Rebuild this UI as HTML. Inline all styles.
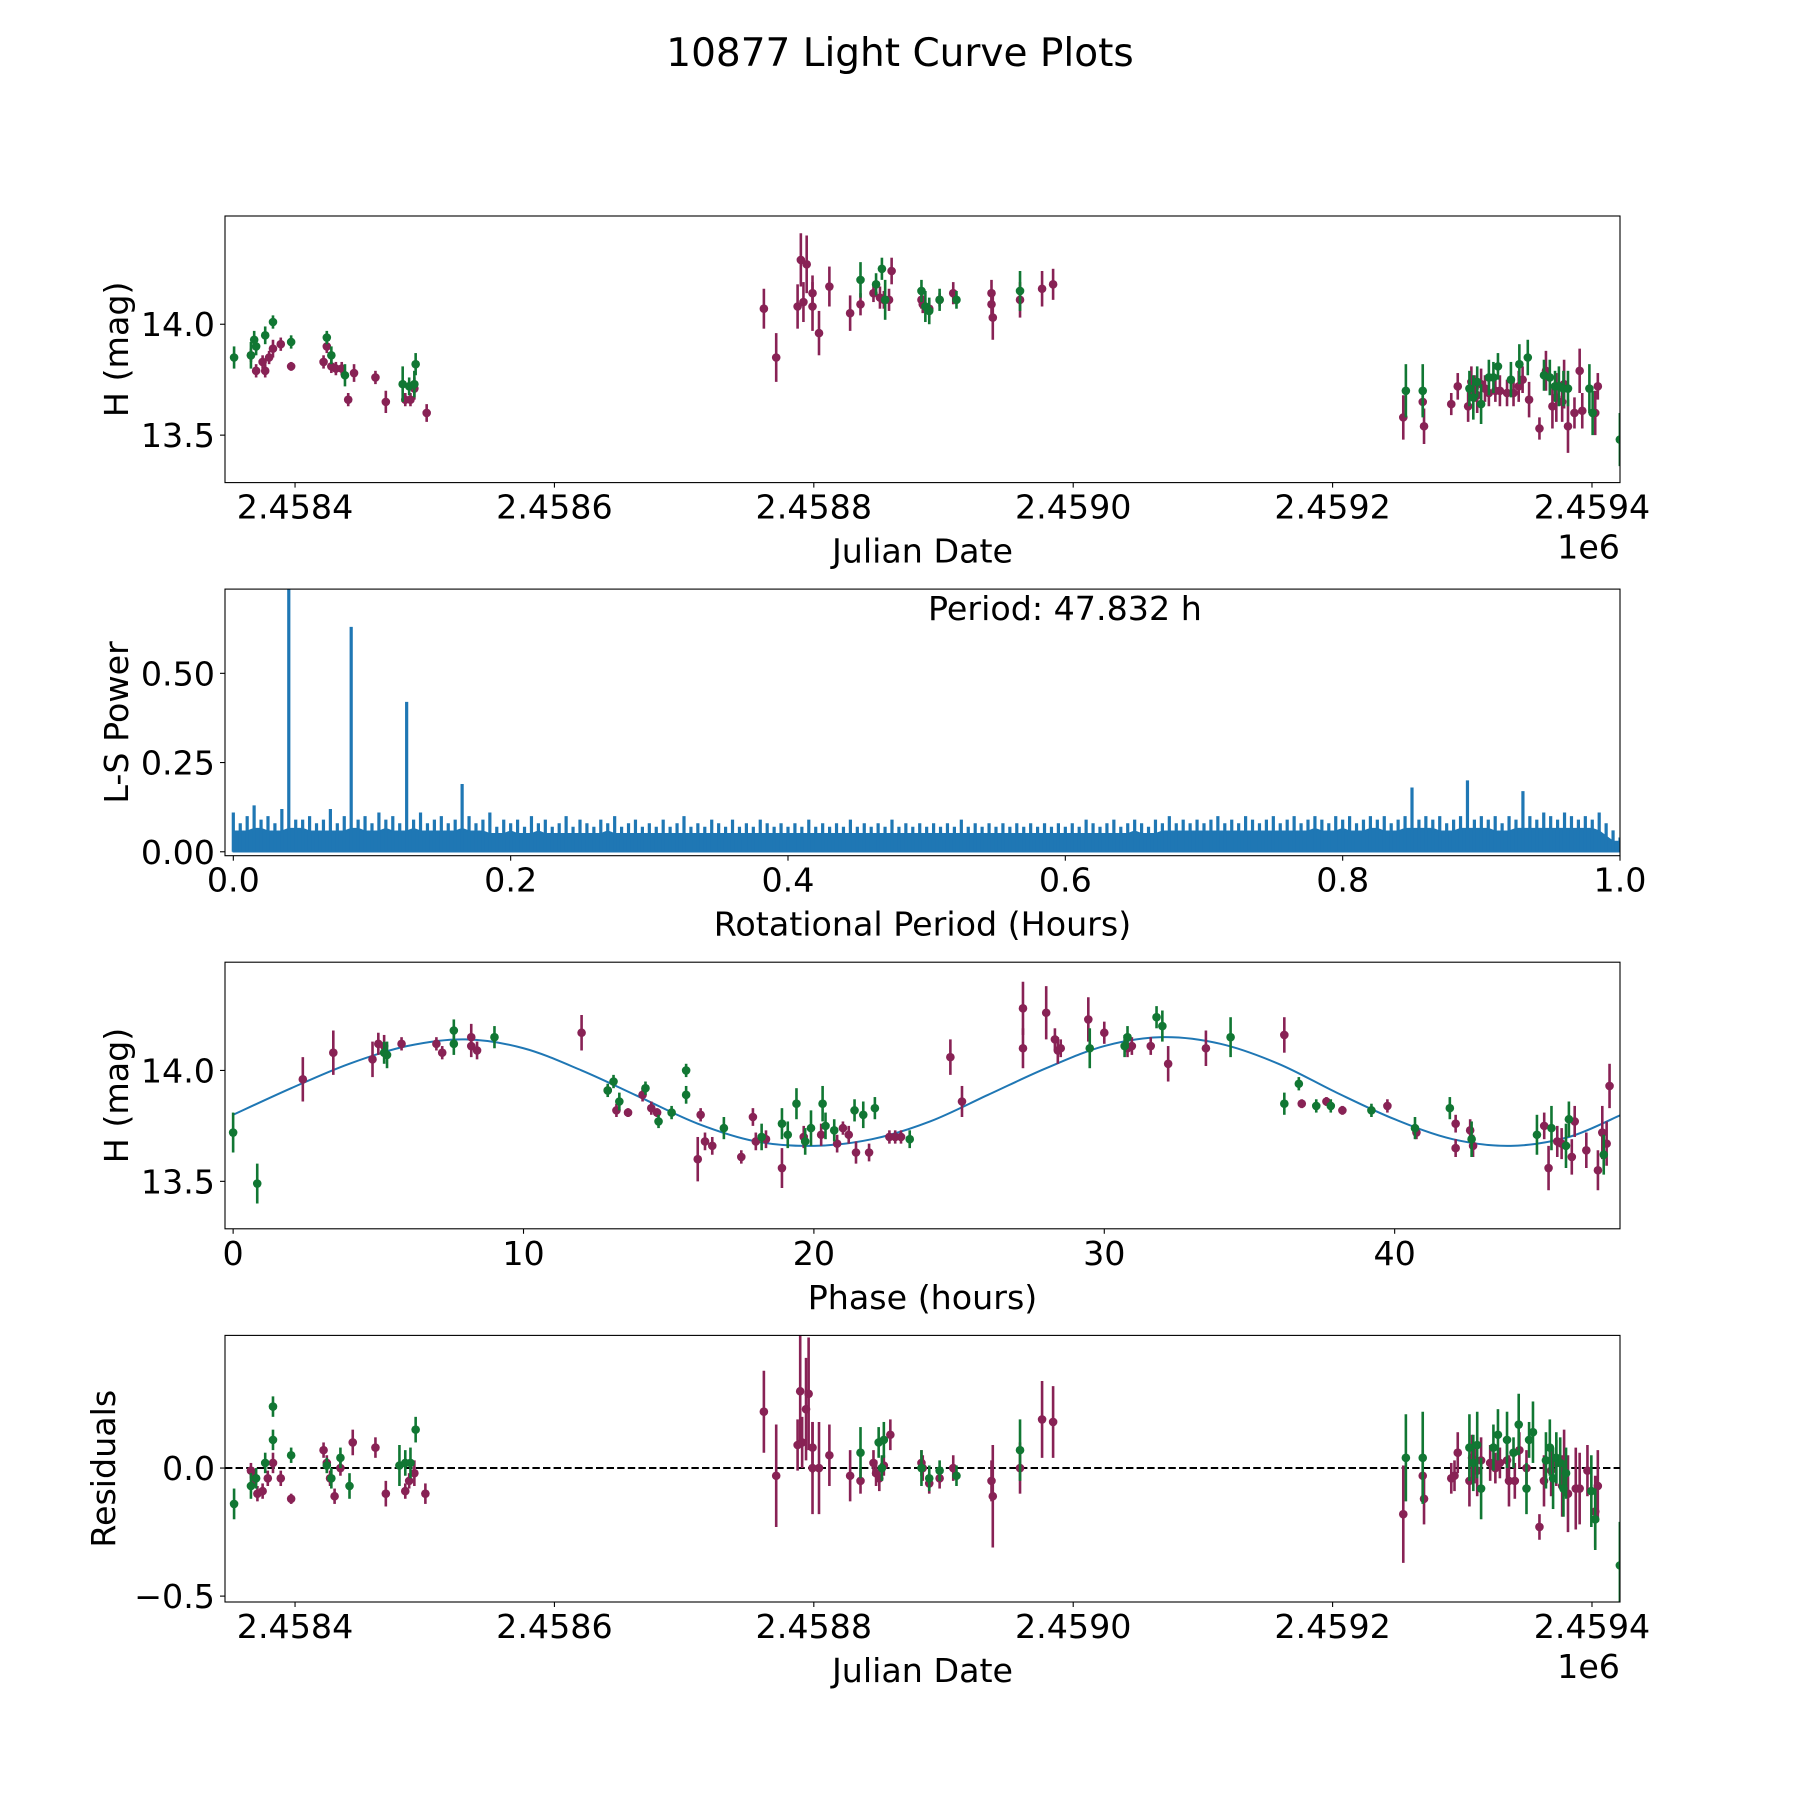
<!DOCTYPE html>
<html><head><meta charset="utf-8"><title>10877 Light Curve Plots</title>
<style>html,body{margin:0;padding:0;background:#fff}svg{display:block;font-family:"DejaVu Sans","Liberation Sans",sans-serif}</style>
</head><body>
<svg id="fig" width="1800" height="1800" viewBox="0 0 1800 1800" xmlns="http://www.w3.org/2000/svg">
<rect width="1800" height="1800" fill="#fff"/>
<text x="900" y="66" font-size="39" text-anchor="middle">10877 Light Curve Plots</text>
</svg>
<script>
// ===== Data (JD offsets are JD - 2458000) =====
const lcPurpleJD=[366,370,375,377,380,383,389,397,422,424.5,428,431.5,436,441,445.5,462,470,485,489,492,501.5,761.5,771,787.5,790,792,794.5,799,799,804,812,828,836,846,851,854,858,860,883,884,889,897,907.5,937,937,938,959,976,984.5,1254.5,1269.5,1270.5,1291.5,1296.5,1304.5,1307,1309.5,1311.5,1314.5,1317.5,1320.5,1325.5,1329,1334.5,1339.5,1343.5,1346.5,1351.5,1359.5,1364.5,1369.5,1372.5,1377,1378.5,1381.5,1386.5,1390.5,1392.5,1402.5,1404.5];
const lcPurpleMag=[13.86,13.79,13.83,13.79,13.85,13.89,13.91,13.81,13.83,13.90,13.81,13.80,13.80,13.66,13.78,13.76,13.65,13.66,13.66,13.71,13.60,14.07,13.85,14.08,14.29,14.10,14.27,14.08,14.14,13.96,14.17,14.05,14.09,14.14,14.12,14.11,14.11,14.24,14.11,14.09,14.07,14.11,14.14,14.14,14.09,14.03,14.11,14.16,14.18,13.58,13.65,13.54,13.64,13.72,13.63,13.74,13.71,13.68,13.73,13.71,13.69,13.70,13.70,13.69,13.69,13.72,13.75,13.66,13.53,13.79,13.63,13.67,13.65,13.73,13.54,13.60,13.79,13.61,13.60,13.72];
const lcPurpleErr=[0.03,0.03,0.03,0.03,0.03,0.04,0.03,0.02,0.03,0.03,0.03,0.03,0.03,0.03,0.04,0.03,0.05,0.03,0.03,0.05,0.04,0.09,0.11,0.10,0.12,0.09,0.13,0.11,0.08,0.10,0.09,0.08,0.05,0.04,0.05,0.04,0.05,0.06,0.04,0.04,0.04,0.03,0.05,0.06,0.05,0.10,0.08,0.08,0.07,0.10,0.06,0.08,0.05,0.06,0.07,0.07,0.06,0.08,0.07,0.06,0.06,0.05,0.07,0.06,0.06,0.07,0.06,0.08,0.05,0.09,0.10,0.11,0.09,0.11,0.12,0.07,0.10,0.08,0.10,0.06];
const lcGreenJD=[353,366,368.5,370,377,383,397,424.5,428,438.5,483,488,492,493,836,848,852.5,855,883,886,889,897,910,959,1256.5,1269.5,1305.5,1308.5,1311.5,1314.5,1320.5,1324,1327.5,1337.5,1344,1350.5,1363,1367.5,1371.5,1374.5,1378,1381.5,1398,1400.5,1421.5];
const lcGreenMag=[13.85,13.86,13.93,13.90,13.95,14.01,13.92,13.94,13.86,13.77,13.73,13.72,13.73,13.82,14.20,14.18,14.25,14.11,14.15,14.08,14.06,14.11,14.11,14.15,13.70,13.70,13.71,13.67,13.74,13.64,13.76,13.76,13.81,13.75,13.82,13.85,13.77,13.76,13.72,13.72,13.71,13.71,13.71,13.60,13.48];
const lcGreenErr=[0.05,0.06,0.04,0.04,0.04,0.03,0.03,0.03,0.04,0.05,0.08,0.04,0.06,0.05,0.08,0.05,0.05,0.09,0.05,0.07,0.06,0.05,0.04,0.09,0.12,0.12,0.08,0.10,0.07,0.09,0.08,0.07,0.06,0.08,0.09,0.08,0.07,0.08,0.07,0.09,0.08,0.08,0.11,0.10,0.12];

const pgPower=[0.11,0.08,0.10,0.13,0.09,0.10,0.08,0.12,0.76,0.09,0.09,0.10,0.08,0.09,0.12,0.08,0.10,0.63,0.09,0.10,
0.08,0.11,0.09,0.10,0.08,0.42,0.09,0.11,0.08,0.09,0.10,0.08,0.09,0.19,0.10,0.08,0.09,0.11,0.07,0.09,
0.08,0.09,0.07,0.10,0.08,0.09,0.07,0.08,0.10,0.07,0.09,0.08,0.07,0.09,0.08,0.10,0.07,0.08,0.09,0.07,
0.08,0.07,0.09,0.07,0.08,0.10,0.07,0.08,0.07,0.09,0.08,0.07,0.09,0.07,0.08,0.07,0.09,0.08,0.07,0.08,
0.07,0.08,0.07,0.09,0.07,0.08,0.07,0.08,0.07,0.09,0.07,0.08,0.07,0.08,0.07,0.09,0.07,0.08,0.07,0.08,
0.07,0.08,0.07,0.08,0.07,0.09,0.07,0.08,0.07,0.08,0.07,0.08,0.07,0.08,0.07,0.08,0.07,0.08,0.07,0.08,
0.07,0.08,0.07,0.09,0.08,0.07,0.08,0.09,0.07,0.08,0.09,0.08,0.07,0.09,0.08,0.10,0.08,0.09,0.08,0.09,
0.08,0.09,0.10,0.08,0.09,0.08,0.10,0.09,0.08,0.09,0.10,0.08,0.09,0.10,0.08,0.09,0.10,0.09,0.08,0.10,
0.09,0.10,0.08,0.09,0.10,0.09,0.10,0.08,0.09,0.10,0.18,0.09,0.10,0.09,0.10,0.08,0.09,0.10,0.20,0.09,
0.10,0.09,0.10,0.08,0.10,0.09,0.17,0.10,0.09,0.11,0.10,0.09,0.11,0.10,0.09,0.10,0.09,0.11,0.08,0.06,0.04];
const pgStep=0.005;

const phPurple=[2.4,3.45,4.8,5.0,5.2,5.8,7.0,7.2,8.2,8.2,8.4,12.0,12.9,13.2,13.6,14.1,14.4,14.6,16.0,16.1,16.25,16.5,17.5,17.9,18.0,18.35,18.9,19.65,20.25,20.8,21.0,21.2,21.45,21.9,22.6,22.8,23.0,24.7,25.1,27.2,27.2,28.0,28.3,28.4,28.5,29.45,30.0,30.8,30.95,31.6,32.2,33.5,36.2,36.8,37.65,38.2,39.75,40.75,42.1,42.1,42.6,42.7,45.15,45.3,45.6,45.75,46.1,46.2,46.6,47.0,47.15,47.3,47.4];
const phPurpleMag=[13.96,14.08,14.05,14.12,14.11,14.12,14.12,14.08,14.15,14.11,14.09,14.17,13.91,13.82,13.81,13.89,13.83,13.81,13.60,13.80,13.68,13.66,13.61,13.79,13.68,13.69,13.56,13.70,13.71,13.67,13.74,13.71,13.63,13.63,13.70,13.70,13.70,14.06,13.86,14.28,14.10,14.26,14.14,14.09,14.10,14.23,14.17,14.10,14.11,14.11,14.03,14.10,14.16,13.85,13.86,13.82,13.84,13.72,13.76,13.65,13.73,13.66,13.75,13.56,13.68,13.67,13.61,13.77,13.64,13.55,13.72,13.67,13.93];
const phPurpleErr=[0.1,0.1,0.08,0.05,0.05,0.03,0.03,0.03,0.06,0.05,0.04,0.08,0.02,0.03,0.02,0.03,0.03,0.02,0.1,0.03,0.04,0.04,0.03,0.04,0.04,0.04,0.09,0.05,0.05,0.04,0.03,0.04,0.05,0.04,0.03,0.03,0.03,0.08,0.07,0.12,0.09,0.12,0.05,0.06,0.04,0.1,0.05,0.04,0.04,0.04,0.08,0.08,0.08,0.02,0.02,0.02,0.03,0.03,0.04,0.04,0.05,0.05,0.06,0.1,0.07,0.07,0.08,0.07,0.08,0.09,0.12,0.1,0.1];
const phGreen=[0,0.83,5.2,5.3,7.6,7.6,9.0,12.9,13.1,13.3,14.2,14.65,15.1,15.6,15.6,16.9,18.2,18.9,19.1,19.4,19.7,19.9,20.3,20.4,20.7,21.4,21.7,22.1,23.3,29.5,30.7,30.8,31.8,32.0,34.35,36.2,36.7,37.3,37.8,39.2,40.7,41.9,42.65,44.9,45.4,45.9,46.0,47.2];
const phGreenMag=[13.72,13.49,14.08,14.07,14.18,14.12,14.15,13.91,13.95,13.86,13.92,13.77,13.81,13.89,14.00,13.74,13.70,13.76,13.71,13.85,13.68,13.74,13.85,13.75,13.73,13.82,13.80,13.83,13.69,14.10,14.11,14.15,14.24,14.20,14.15,13.85,13.94,13.84,13.84,13.82,13.74,13.83,13.69,13.71,13.74,13.66,13.78,13.62];
const phGreenErr=[0.09,0.09,0.05,0.06,0.05,0.05,0.05,0.03,0.03,0.04,0.03,0.03,0.03,0.04,0.03,0.05,0.06,0.07,0.06,0.07,0.06,0.08,0.08,0.06,0.05,0.05,0.06,0.05,0.04,0.09,0.05,0.05,0.05,0.07,0.09,0.05,0.03,0.03,0.03,0.03,0.05,0.05,0.08,0.09,0.1,0.1,0.08,0.09];
const fitPhase=[0,2,4,6,8,10,12,14,16,18,20,22,24,26,28,30,32,34,36,38,40,42,44,46,47.8];
const fitMag=[13.80,13.92,14.03,14.11,14.14,14.10,14.00,13.88,13.76,13.68,13.66,13.69,13.77,13.89,14.01,14.11,14.15,14.12,14.03,13.90,13.78,13.69,13.66,13.70,13.80];

const resPurpleJD=[366,368.5,371,375,379,383,389,397,422,424.5,427,430.5,435,444.5,462,470,485,488,492,500.5,761.5,771,787.5,789.5,791,794,796,799,799,804,812,828,836,846,848,850.5,854,859,883,884,889,897,907.5,937,938,959,976,984.5,1254.5,1269.5,1270.5,1291.5,1294,1296.5,1305.5,1307.5,1309.5,1311.5,1314.5,1321.5,1325.5,1329,1334.5,1336,1340.5,1344,1349.5,1359.5,1363,1368.5,1372.5,1377,1378.5,1381.5,1387.5,1390.5,1396.5,1402.5,1404.5];
const resPurple=[-0.01,-0.04,-0.10,-0.09,-0.04,0.02,-0.04,-0.12,0.07,0.02,-0.04,-0.11,0.0,0.10,0.08,-0.10,-0.09,-0.05,-0.02,-0.10,0.22,-0.03,0.09,0.30,0.10,0.23,0.29,0.08,0.0,0.0,0.05,-0.03,-0.05,0.02,-0.02,-0.04,0.01,0.13,0.02,0.0,-0.06,-0.04,0.0,-0.05,-0.11,0.0,0.19,0.18,-0.18,-0.03,-0.12,-0.04,-0.03,0.06,-0.05,0.04,0.02,-0.01,0.03,0.02,0.0,0.02,0.03,-0.05,-0.05,0.07,0.0,-0.23,-0.05,-0.01,0.02,-0.07,0.03,-0.10,-0.08,-0.08,-0.01,-0.17,-0.07];
const resPurpleErr=[0.03,0.03,0.03,0.03,0.03,0.04,0.03,0.02,0.03,0.03,0.03,0.03,0.03,0.05,0.04,0.05,0.03,0.03,0.05,0.04,0.16,0.2,0.1,0.22,0.1,0.2,0.22,0.1,0.18,0.18,0.12,0.1,0.05,0.05,0.05,0.05,0.04,0.06,0.05,0.05,0.04,0.04,0.05,0.08,0.2,0.1,0.15,0.14,0.19,0.1,0.1,0.06,0.06,0.08,0.1,0.09,0.08,0.1,0.09,0.07,0.06,0.06,0.08,0.1,0.07,0.07,0.07,0.05,0.1,0.1,0.09,0.12,0.12,0.15,0.16,0.14,0.1,0.14,0.14];
const resGreenJD=[353,366,370,377,383,383,397,424.5,428,435,442,480.5,485,489,493,836,850,852.5,854,883,889,897,910,959,1256.5,1269.5,1305.5,1308.5,1311.5,1314.5,1324,1327.5,1334.5,1339.5,1343.5,1349.5,1351.5,1354.5,1364.5,1367.5,1370,1372.5,1375.5,1378,1380,1399.5,1402.5,1421.5];
const resGreen=[-0.14,-0.07,-0.04,0.02,0.11,0.24,0.05,0.01,-0.04,0.04,-0.07,0.01,0.02,0.02,0.15,0.06,0.10,0.0,0.11,0.0,-0.04,-0.01,-0.03,0.07,0.04,0.04,0.08,0.02,0.09,-0.08,0.08,0.13,0.11,0.06,0.17,-0.08,0.11,0.14,0.03,0.08,-0.04,0.04,0.02,-0.08,-0.02,-0.09,-0.20,-0.38];
const resGreenErr=[0.06,0.05,0.04,0.04,0.04,0.04,0.03,0.03,0.04,0.04,0.05,0.08,0.05,0.06,0.05,0.1,0.06,0.05,0.07,0.07,0.05,0.04,0.04,0.12,0.17,0.18,0.13,0.11,0.13,0.12,0.09,0.1,0.11,0.06,0.12,0.1,0.07,0.12,0.11,0.11,0.12,0.1,0.1,0.11,0.1,0.14,0.12,0.17];

const jdTicks=[400,600,800,1000,1200,1400];
const jdTickLabels=["2.4584","2.4586","2.4588","2.4590","2.4592","2.4594"];
const pgTicks=[0,0.2,0.4,0.6,0.8,1.0];
const pgTickLabels=["0.0","0.2","0.4","0.6","0.8","1.0"];
const pgYTicks=[0,0.25,0.5];
const pgYTickLabels=["0.00","0.25","0.50"];
const magTicks=[13.5,14.0];
const magTickLabels=["13.5","14.0"];
const phTicks=[0,10,20,30,40];
const phTickLabels=["0","10","20","30","40"];
const resTicks=[-0.5,0.0];
const resTickLabels=["\u22120.5","0.0"];

// ===== Rendering =====
const NS="http://www.w3.org/2000/svg";
const svg=document.getElementById('fig');
const PURPLE="#882255", GREEN="#117733", BLUE="#1f77b4";
const L=225,R=1620,H=266.6,FS=33.3;
function el(tag,attrs,parent){const e=document.createElementNS(NS,tag);for(const k in attrs)e.setAttribute(k,attrs[k]);(parent||svg).appendChild(e);return e;}
function makeAxes(name,top,xlim,ylim){
  const g=el('g',{});
  
  
  const X=v=>L+(v-xlim[0])/(xlim[1]-xlim[0])*(R-L);
  const Y=v=>top+H-(v-ylim[0])/(ylim[1]-ylim[0])*H;
  const clipId=name+'-clip';
  const cp=el('clipPath',{id:clipId},g);el('rect',{x:L,y:top,width:R-L,height:H},cp);
  const plot=el('g',{'clip-path':'url(#'+clipId+')'},g);
  
  
  return {g,plot,X,Y,top};
}
function frame(a){
  const r=el('rect',{x:L,y:a.top,width:R-L,height:H,fill:'none',stroke:'#000','stroke-width':1.1},a.g);
  
  
}
function xTicks(a,ticks,labels){
  const bot=a.top+H;
  ticks.forEach((t,i)=>{
    const x=a.X(t);
    el('line',{x1:x,x2:x,y1:bot,y2:bot+5,stroke:'#000','stroke-width':1.1},a.g);
    const tx=el('text',{x:x,y:bot+36,'font-size':FS,'text-anchor':'middle'},a.g);
    tx.textContent=labels[i];
    
    
  });
}
function yTicks(a,ticks,labels){
  ticks.forEach((t,i)=>{
    const y=a.Y(t);
    el('line',{x1:L-5,x2:L,y1:y,y2:y,stroke:'#000','stroke-width':1.1},a.g);
    const tx=el('text',{x:L-10,y:y+12,'font-size':FS,'text-anchor':'end'},a.g);
    tx.textContent=labels[i];
    
    
  });
}
function xLabel(a,txt,name){
  const t=el('text',{x:(L+R)/2,y:a.top+H+80,'font-size':FS,'text-anchor':'middle'},a.g);
  t.textContent=txt;
  
  
}
function yLabel(a,txt,name,x){
  const cy=a.top+H/2;
  const t=el('text',{x:x,y:cy,'font-size':FS,'text-anchor':'middle',transform:'rotate(-90 '+x+' '+cy+')'},a.g);
  t.textContent=txt;
  
  
}
function offsetText(a){
  const t=el('text',{x:R,y:a.top+H+76,'font-size':FS,'text-anchor':'end'},a.g);
  t.textContent='1e6';
  
  
}
function errPoints(a,xs,ys,es,color,name){
  const g=el('g',{},a.plot);
  
  
  xs.forEach((xv,i)=>{
    const e=es[i]!==undefined?es[i]:0.05;
    const x=a.X(xv);
    const ln=el('line',{x1:x,x2:x,y1:a.Y(ys[i]-e),y2:a.Y(ys[i]+e),stroke:color,'stroke-width':2.6},g);
    
    
    const c=el('circle',{cx:x,cy:a.Y(ys[i]),r:4.3,fill:color},g);
    
    
  });
}

// Panel 1: light curve
const a1=makeAxes('light-curve-axes',216,[346.0,1421.6],[13.286,14.488]);
errPoints(a1,lcPurpleJD,lcPurpleMag,lcPurpleErr,PURPLE,'purple-series');
errPoints(a1,lcGreenJD,lcGreenMag,lcGreenErr,GREEN,'green-series');
frame(a1);xTicks(a1,jdTicks,jdTickLabels);yTicks(a1,magTicks,magTickLabels);
xLabel(a1,'Julian Date','x-axis-title');yLabel(a1,'H (mag)','y-axis-title',128);offsetText(a1);

// Panel 2: periodogram
const a2=makeAxes('periodogram-axes',589.1,[-0.006,1.0],[-0.011,0.736]);
(function(){
  const g=el('g',{},a2.plot);
  
  
  let d='M'+a2.X(0)+','+a2.Y(0);
  pgPower.forEach((p,i)=>{
    const nb=Math.min(p,pgPower[Math.min(i+1,pgPower.length-1)],pgPower[Math.max(i-1,0)]);
    d+=' L'+a2.X(i*pgStep).toFixed(2)+','+a2.Y(nb*0.72).toFixed(2);
  });
  d+=' L'+a2.X((pgPower.length-1)*pgStep)+','+a2.Y(0)+' Z';
  const base=el('path',{d:d,fill:BLUE,stroke:BLUE,'stroke-width':1.5},g);
  
  
  pgPower.forEach((p,i)=>{
    const x=a2.X(i*pgStep);
    const s=el('line',{x1:x,x2:x,y1:a2.Y(0),y2:a2.Y(p),stroke:BLUE,'stroke-width':3.2},g);
    
    
  });
})();
frame(a2);xTicks(a2,pgTicks,pgTickLabels);yTicks(a2,pgYTicks,pgYTickLabels);
xLabel(a2,'Rotational Period (Hours)','x-axis-title');yLabel(a2,'L-S Power','y-axis-title',128);
(function(){const t=el('text',{x:928,y:620,'font-size':FS},a2.g);t.textContent='Period: 47.832 h';

})();

// Panel 3: phased curve
const a3=makeAxes('phase-curve-axes',962.2,[-0.28,47.76],[13.286,14.488]);
(function(){
  const pts=fitPhase.map((p,i)=>[a3.X(p),a3.Y(fitMag[i])]);
  let d='M'+pts[0][0]+','+pts[0][1];
  for(let i=0;i<pts.length-1;i++){
    const p0=pts[Math.max(0,i-1)],p1=pts[i],p2=pts[i+1],p3=pts[Math.min(pts.length-1,i+2)];
    const c1=[p1[0]+(p2[0]-p0[0])/6,p1[1]+(p2[1]-p0[1])/6],c2=[p2[0]-(p3[0]-p1[0])/6,p2[1]-(p3[1]-p1[1])/6];
    d+=' C'+c1[0].toFixed(2)+','+c1[1].toFixed(2)+' '+c2[0].toFixed(2)+','+c2[1].toFixed(2)+' '+p2[0].toFixed(2)+','+p2[1].toFixed(2);
  }
  const p=el('path',{d:d,fill:'none',stroke:BLUE,'stroke-width':2},a3.plot);
  
  
})();
errPoints(a3,phPurple,phPurpleMag,phPurpleErr,PURPLE,'purple-series');
errPoints(a3,phGreen,phGreenMag,phGreenErr,GREEN,'green-series');
frame(a3);xTicks(a3,phTicks,phTickLabels);yTicks(a3,magTicks,magTickLabels);
xLabel(a3,'Phase (hours)','x-axis-title');yLabel(a3,'H (mag)','y-axis-title',128);

// Panel 4: residuals
const a4=makeAxes('residuals-axes',1335.4,[346.0,1421.6],[-0.523,0.518]);
(function(){const z=el('line',{x1:L,x2:R,y1:a4.Y(0),y2:a4.Y(0),stroke:'#000','stroke-width':2,'stroke-dasharray':'7.4,3.2'},a4.plot);

})();
errPoints(a4,resPurpleJD,resPurple,resPurpleErr,PURPLE,'purple-series');
errPoints(a4,resGreenJD,resGreen,resGreenErr,GREEN,'green-series');
frame(a4);xTicks(a4,jdTicks,jdTickLabels);yTicks(a4,resTicks,resTickLabels);
xLabel(a4,'Julian Date','x-axis-title');yLabel(a4,'Residuals','y-axis-title',115);offsetText(a4);
</script>
</body></html>
